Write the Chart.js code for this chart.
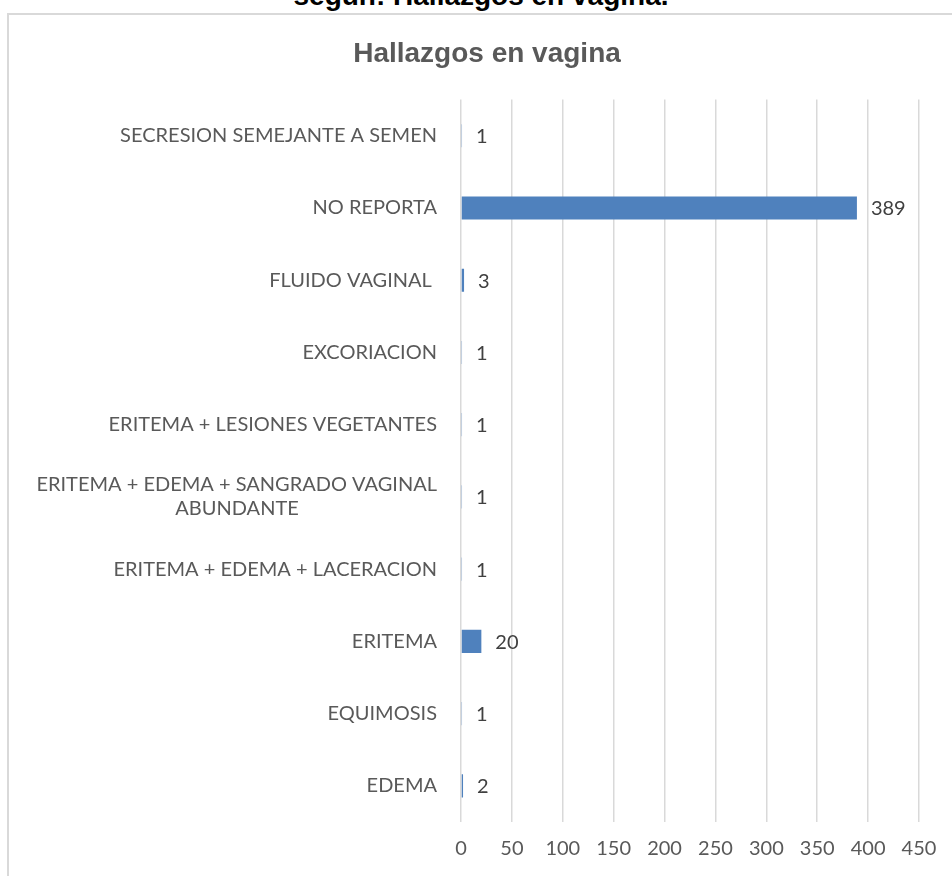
<!DOCTYPE html>
<html>
<head>
<meta charset="utf-8">
<script src="https://cdn.jsdelivr.net/npm/chart.js@4.4.1/dist/chart.umd.min.js"></script>
<style>
  html, body { margin: 0; padding: 0; background: #ffffff; overflow: hidden; width: 952px; height: 876px; }
  #heading { position: absolute; left: 0; width: 962px; top: -20px; height: 28px; line-height: 28px; text-align: center;
    font: bold 28px "Liberation Sans", Arial, sans-serif; color: #000; white-space: nowrap; }
  #frame { position: absolute; left: 7px; top: 13px; width: 1000px; height: 900px;
    border-left: 2px solid #d9d9d9; border-top: 2px solid #d9d9d9; }
  #wrap { position: absolute; left: 0; top: 0; width: 956px; height: 861px; }
</style>
</head>
<body>
<div id="heading">según: Hallazgos en vagina.</div>
<div id="frame"><div id="wrap"><canvas id="c"></canvas></div></div>
<script>
const chartTitle = "Hallazgos en vagina";
const categories = [
  "SECRESION SEMEJANTE A SEMEN",
  "NO REPORTA",
  "FLUIDO VAGINAL ",
  "EXCORIACION",
  "ERITEMA + LESIONES VEGETANTES",
  ["ERITEMA + EDEMA + SANGRADO VAGINAL", "ABUNDANTE"],
  "ERITEMA + EDEMA + LACERACION",
  "ERITEMA",
  "EQUIMOSIS",
  "EDEMA"
];
const values = [1, 389, 3, 1, 1, 1, 1, 20, 1, 2];
const xTicks = [0, 50, 100, 150, 200, 250, 300, 350, 400, 450];

const labelFont = { family: "Lato, 'Open Sans', sans-serif", size: 20 };
const measureCtx = document.createElement('canvas').getContext('2d');
measureCtx.font = labelFont.size + "px " + labelFont.family;

function centerLines(lbl) {
  if (!Array.isArray(lbl)) return lbl;
  const widths = lbl.map(s => measureCtx.measureText(s).width);
  const maxW = Math.max(...widths);
  const sp = measureCtx.measureText('\u00A0').width || 4;
  return lbl.map((s, i) => s + '\u00A0'.repeat(Math.round((maxW - widths[i]) / 2 / sp)));
}

const valueLabels = {
  id: 'valueLabels',
  afterDatasetsDraw(chart) {
    const ctx = chart.ctx;
    const meta = chart.getDatasetMeta(0);
    ctx.save();
    ctx.font = labelFont.size + "px " + labelFont.family;
    ctx.fillStyle = '#404040';
    ctx.textAlign = 'left';
    ctx.textBaseline = 'middle';
    meta.data.forEach((bar, i) => {
      ctx.fillText(String(chart.data.datasets[0].data[i]), bar.x + 14, bar.y + 1);
    });
    ctx.restore();
  }
};

new Chart(document.getElementById('c'), {
  type: 'bar',
  data: {
    labels: categories,
    datasets: [{
      data: values,
      backgroundColor: '#4f81bd',
      borderWidth: 0,
      categoryPercentage: 0.64,
      barPercentage: 0.5
    }]
  },
  options: {
    indexAxis: 'y',
    responsive: true,
    maintainAspectRatio: false,
    animation: false,
    layout: { padding: 0 },
    plugins: {
      legend: { display: false },
      tooltip: { enabled: false },
      title: {
        display: true,
        text: chartTitle,
        color: '#595959',
        font: { family: "'Liberation Sans', Arial, sans-serif", size: 28, weight: 'bold' },
        padding: { top: 22, bottom: 29 }
      }
    },
    scales: {
      x: {
        min: xTicks[0],
        max: xTicks[xTicks.length - 1],
        afterBuildTicks(scale) { scale.ticks = xTicks.map(v => ({ value: v })); },
        afterFit(scale) { scale.paddingRight = 46; },
        grid: { color: '#d9d9d9', lineWidth: 1.5, drawTicks: false },
        border: { display: false },
        ticks: { color: '#595959', font: labelFont, padding: 15, maxRotation: 0 }
      },
      y: {
        grid: { display: false, drawTicks: false },
        border: { display: false },
        afterFit(scale) { scale.width = 452; },
        ticks: {
          color: '#595959',
          font: labelFont,
          padding: 24,
          autoSkip: false,
          callback(value) { return centerLines(this.getLabelForValue(value)); }
        }
      }
    }
  },
  plugins: [valueLabels]
});
</script>
</body>
</html>
